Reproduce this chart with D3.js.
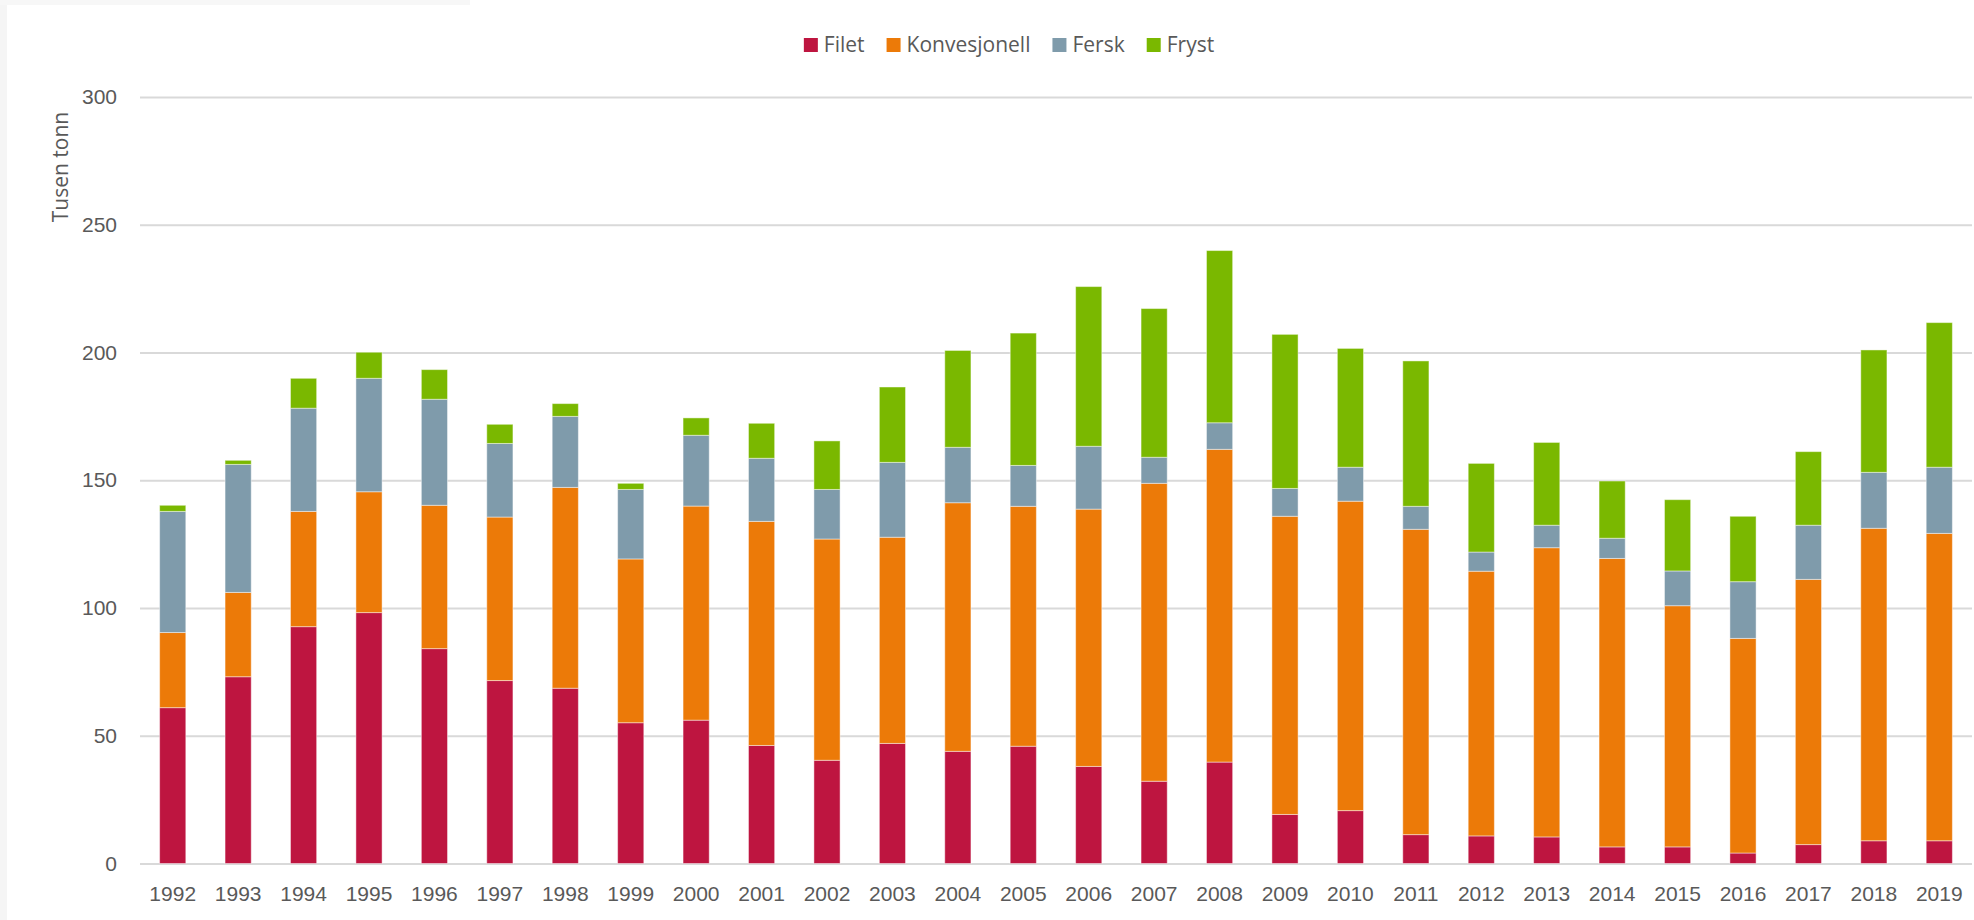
<!DOCTYPE html>
<html>
<head>
<meta charset="utf-8">
<script src="https://cdn.jsdelivr.net/npm/d3@7"></script>
<style>
  html, body { margin: 0; padding: 0; background: #fff; }
  #chart svg { display: block; font-family: "Open Sans", sans-serif; }
</style>
</head>
<body>
<div id="chart"></div>
<script>
// tusen tonn per år, lest av figuren
const years = [1992, 1993, 1994, 1995, 1996, 1997, 1998, 1999, 2000, 2001, 2002, 2003, 2004, 2005,
  2006, 2007, 2008, 2009, 2010, 2011, 2012, 2013, 2014, 2015, 2016, 2017, 2018, 2019];
const seriesNames = ["Filet", "Konvesjonell", "Fersk", "Fryst"];
const filet = [61.0, 73.1, 92.7, 98.2, 84.1, 71.6, 68.6, 55.1, 56.1, 46.2, 40.4, 47.0, 43.9, 45.9,
  38.0, 32.2, 39.7, 19.2, 20.7, 11.3, 10.8, 10.4, 6.5, 6.5, 4.1, 7.4, 8.9, 8.9];
const konvesjonell = [29.4, 33.0, 45.1, 47.3, 56.1, 64.0, 78.6, 64.1, 83.8, 87.7, 86.6, 80.7, 97.3, 93.9,
  100.7, 116.6, 122.4, 116.7, 121.1, 119.5, 103.6, 113.2, 112.9, 94.4, 84.0, 103.8, 122.3, 120.3];
const fersk = [47.4, 50.1, 40.4, 44.4, 41.5, 28.8, 27.8, 27.2, 27.7, 24.7, 19.4, 29.3, 21.7, 16.0,
  24.6, 10.2, 10.4, 10.9, 13.3, 9.0, 7.5, 8.8, 7.9, 13.6, 22.2, 21.2, 21.9, 25.9];
const fryst = [2.4, 1.6, 11.7, 10.2, 11.6, 7.5, 5.0, 2.4, 6.8, 13.7, 19.0, 29.5, 37.9, 51.8,
  62.5, 58.2, 67.4, 60.3, 46.5, 56.9, 34.7, 32.4, 22.4, 27.9, 25.6, 28.8, 47.9, 56.6];
const yTicks = [0, 50, 100, 150, 200, 250, 300];
const yLabel = "Tusen tonn";

const width = 1974,
  height = 920,
  margin = { top: 97, right: 2, bottom: 56.5, left: 140 },
  textColor = "#595959",
  gridColor = "#d9d9d9",
  fontSize = 21;

const colors = d3.scaleOrdinal()
  .domain(seriesNames)
  .range(["#be1540", "#ec7a08", "#7f9bab", "#7ab800"]);

const rows = years.map((yr, i) => ({
  year: yr,
  Filet: filet[i],
  Konvesjonell: konvesjonell[i],
  Fersk: fersk[i],
  Fryst: fryst[i]
}));

const stacked = d3.stack().keys(seriesNames)(rows);

const x = d3.scaleBand()
  .domain(years)
  .range([margin.left, width - margin.right])
  .paddingInner(0.6)
  .paddingOuter(0.3);

const y = d3.scaleLinear()
  .domain([0, 300])
  .range([height - margin.bottom, margin.top]);

const svg = d3.select("#chart")
  .append("svg")
  .attr("width", width)
  .attr("height", height);

svg.append("rect")
  .attr("width", width)
  .attr("height", height)
  .attr("fill", "#fff");

// faint frame edge, as in the screenshot
svg.append("rect").attr("x", 0).attr("y", 0).attr("width", 7).attr("height", height).attr("fill", "#f5f5f5");
svg.append("rect").attr("x", 0).attr("y", 0).attr("width", 470).attr("height", 5).attr("fill", "#f7f7f7");

// y axis + gridlines
const yAxis = svg.append("g")
  .attr("transform", "translate(" + margin.left + ",0)")
  .call(d3.axisLeft(y)
    .tickValues(yTicks)
    .tickSize(-(width - margin.left - margin.right))
    .tickPadding(23));

yAxis.select(".domain").remove();
yAxis.selectAll(".tick line")
  .attr("stroke", gridColor)
  .attr("stroke-width", 2);
yAxis.selectAll(".tick text")
  .attr("fill", textColor)
  .style("font-size", fontSize + "px");

// bars
svg.append("g")
  .selectAll("g")
  .data(stacked)
  .join("g")
  .attr("fill", d => colors(d.key))
  .selectAll("rect")
  .data(d => d)
  .join("rect")
  .attr("x", d => x(d.data.year))
  .attr("y", d => y(d[1]))
  .attr("width", x.bandwidth())
  .attr("height", d => y(d[0]) - y(d[1]))
  .attr("stroke", "rgba(255,255,255,0.45)")
  .attr("stroke-width", 1);

// x axis
const xAxis = svg.append("g")
  .attr("transform", "translate(0," + y(0) + ")")
  .call(d3.axisBottom(x).tickSize(0).tickPadding(23));

xAxis.select(".domain").remove();
xAxis.selectAll(".tick text")
  .attr("fill", textColor)
  .style("font-size", fontSize + "px");

// y label
svg.append("text")
  .attr("transform", "translate(68,167) rotate(-90)")
  .attr("text-anchor", "middle")
  .attr("fill", textColor)
  .style("font-size", fontSize + "px")
  .text(yLabel);

// legend
const legend = svg.append("g").attr("class", "legend");

const items = legend.selectAll("g")
  .data(seriesNames)
  .join("g");

items.append("rect")
  .attr("y", 38)
  .attr("width", 14)
  .attr("height", 14)
  .attr("fill", d => colors(d));

items.append("text")
  .attr("x", 20)
  .attr("y", 45)
  .attr("dy", "0.35em")
  .attr("fill", textColor)
  .style("font-size", fontSize + "px")
  .text(d => d);

let offset = 0;
const widths = [];
items.each(function() {
  const w = 20 + d3.select(this).select("text").node().getComputedTextLength();
  widths.push(w);
});
const gap = 22;
const total = d3.sum(widths) + gap * (widths.length - 1);
const startX = 1009 - total / 2;
items.attr("transform", (d, i) => {
  const tx = startX + offset;
  offset += widths[i] + gap;
  return "translate(" + tx + ",0)";
});
</script>
</body>
</html>
